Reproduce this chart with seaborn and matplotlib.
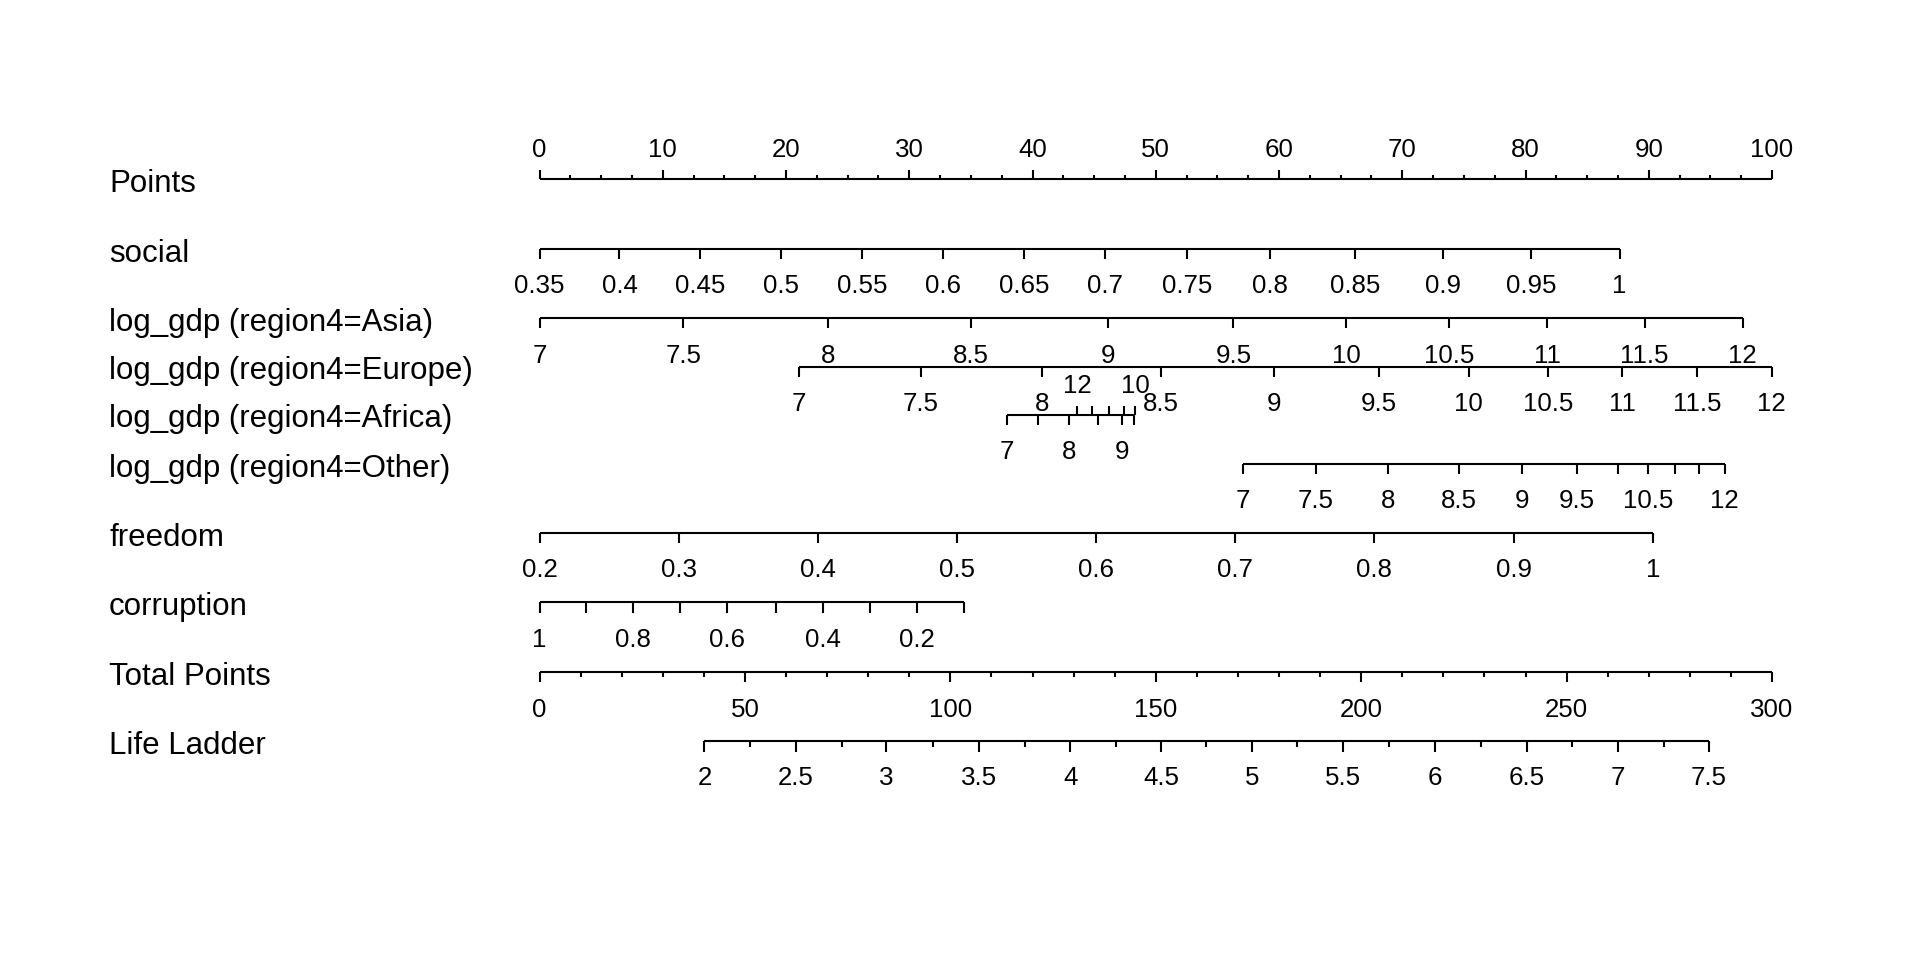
import numpy as np
import pandas as pd
import matplotlib
matplotlib.use("Agg")
import matplotlib.pyplot as plt
import seaborn as sns

# ------------------------------------------------------------------ data
row_names = ["Points", "social", "log_gdp (region4=Asia)", "log_gdp (region4=Europe)",
             "log_gdp (region4=Africa)", "log_gdp (region4=Other)", "freedom",
             "corruption", "Total Points", "Life Ladder"]

# Points scale (0-100)
points_major = [0, 10, 20, 30, 40, 50, 60, 70, 80, 90, 100]
points_minor = [2.5, 5, 7.5, 12.5, 15, 17.5, 22.5, 25, 27.5, 32.5, 35, 37.5,
                42.5, 45, 47.5, 52.5, 55, 57.5, 62.5, 65, 67.5, 72.5, 75, 77.5,
                82.5, 85, 87.5, 92.5, 95, 97.5]

social_vals = ["0.35", "0.4", "0.45", "0.5", "0.55", "0.6", "0.65", "0.7", "0.75",
               "0.8", "0.85", "0.9", "0.95", "1"]
social_pts = [0, 6.49, 13.06, 19.63, 26.16, 32.73, 39.30, 45.90, 52.54,
              59.24, 66.20, 73.33, 80.47, 87.64]

gdp_vals = ["7", "7.5", "8", "8.5", "9", "9.5", "10", "10.5", "11", "11.5", "12"]
asia_pts = [0, 11.68, 23.40, 35.01, 46.15, 56.30, 65.47, 73.80, 81.78, 89.67, 97.61]
europe_pts = [21.04, 30.95, 40.78, 50.45, 59.60, 68.08, 75.40, 81.85, 87.83, 93.95, 99.96]
africa_pts = [37.93, 40.45, 42.94, 45.32, 47.27, 48.24, 48.32, 47.40, 46.19, 44.86, 43.61]
africa_side = ["below", "below", "below", "below", "below", "below",
               "above", "above", "above", "above", "above"]
africa_shown = [True, False, True, False, True, False, True, False, False, False, True]
other_pts = [57.10, 62.97, 68.88, 74.57, 79.75, 84.20, 87.54, 89.96, 92.10, 94.09, 96.16]
other_shown = [True, True, True, True, True, True, False, True, False, False, True]

freedom_vals = ["0.2", "0.3", "0.4", "0.5", "0.6", "0.7", "0.8", "0.9", "1"]
freedom_pts = [0, 11.28, 22.57, 33.85, 45.17, 56.46, 67.74, 79.06, 90.38]

corruption_vals = ["1", "0.9", "0.8", "0.7", "0.6", "0.5", "0.4", "0.3", "0.2", "0.1"]
corruption_pts = [0, 3.81, 7.62, 11.43, 15.24, 19.16, 22.97, 26.81, 30.62, 34.47]
corruption_shown = [True, False, True, False, True, False, True, False, True, False]

# Total points scale (0-300)
total_major = [0, 50, 100, 150, 200, 250, 300]
total_minor = [10, 20, 30, 40, 60, 70, 80, 90, 110, 120, 130, 140, 160, 170, 180,
               190, 210, 220, 230, 240, 260, 270, 280, 290]

# Life Ladder on the total-points scale
life_major_vals = ["2", "2.5", "3", "3.5", "4", "4.5", "5", "5.5", "6", "6.5", "7", "7.5"]
life_major_total = [40.15, 62.35, 84.44, 106.96, 129.16, 151.25, 173.45, 195.65,
                    217.85, 240.26, 262.46, 284.66]
life_minor_total = [51.14, 73.56, 95.76, 118.06, 140.37, 162.35, 184.44, 206.86,
                    229.16, 251.25, 273.78]

# ------------------------------------------------------------------ layout
W, H = 1920, 960
X0_PX, X100_PX = 539.5, 1772.0          # where points 0 and 100 fall
LABEL_X_PX = 109
row_y = [179, 248.7, 318, 366.7, 414.7, 463.7, 532.7, 602, 672.3, 740.7]
LW = 1.5
TICK_FS = 18.6
NAME_FS = 22.5
BELOW_BASE = 44.7   # baseline offset of tick labels below the line
ABOVE_BASE = -21.8  # baseline offset of tick labels above the line

sns.set_theme(style="white")
plt.rcParams['font.family'] = ['Liberation Sans', 'DejaVu Sans']

fig = plt.figure(figsize=(W / 100, H / 100), dpi=100)
ax = fig.add_axes([0, 0, 1, 1])
ppx = (X100_PX - X0_PX) / 100.0
ax.set_xlim(-X0_PX / ppx, (W - X0_PX) / ppx)
ax.set_ylim(H, 0)
ax.axis("off")

# horizontal axis lines via seaborn
segs = []
def add_seg(i, xs):
    segs.append(pd.DataFrame({"row": i, "x": [min(xs), max(xs)], "y": [row_y[i]] * 2}))

add_seg(0, points_major)
add_seg(1, social_pts)
add_seg(2, asia_pts)
add_seg(3, europe_pts)
add_seg(4, africa_pts)
add_seg(5, other_pts)
add_seg(6, freedom_pts)
add_seg(7, corruption_pts)
add_seg(8, [t / 3 for t in total_major])
add_seg(9, [t / 3 for t in life_major_total])
seg_df = pd.concat(segs, ignore_index=True)
sns.lineplot(data=seg_df, x="x", y="y", units="row", estimator=None, sort=False,
             color="black", lw=LW, ax=ax, legend=False, solid_capstyle="butt")
ax.set_xlim(-X0_PX / ppx, (W - X0_PX) / ppx)
ax.set_ylim(H, 0)


def ticks(i, xs, length, up=False):
    y = row_y[i]
    y2 = y - length if up else y + length
    ax.vlines(xs, y, y2, color="black", lw=LW)


def labels(i, xs, texts, up=False, shown=None):
    y = row_y[i] + (ABOVE_BASE if up else BELOW_BASE)
    for k, (x, t) in enumerate(zip(xs, texts)):
        if shown is not None and not shown[k]:
            continue
        ax.text(x, y, t, ha="center", va="baseline", fontsize=TICK_FS, color="black")


# Points
ticks(0, points_major, 9, up=True)
ticks(0, points_minor, 4.5, up=True)
labels(0, points_major, [str(v) for v in points_major], up=True)

# social
ticks(1, social_pts, 10)
labels(1, social_pts, social_vals)

# Asia / Europe
ticks(2, asia_pts, 10)
labels(2, asia_pts, gdp_vals)
ticks(3, europe_pts, 10)
labels(3, europe_pts, gdp_vals)

# Africa (non-monotone: lower part below, upper part above)
a_below = [p for p, s in zip(africa_pts, africa_side) if s == "below"]
a_above = [p for p, s in zip(africa_pts, africa_side) if s == "above"]
ticks(4, a_below, 10)
ticks(4, a_above, 9, up=True)
for p, v, s, sh in zip(africa_pts, gdp_vals, africa_side, africa_shown):
    if sh:
        labels(4, [p], [v], up=(s == "above"))

# Other
ticks(5, other_pts, 10)
labels(5, other_pts, gdp_vals, shown=other_shown)

# freedom
ticks(6, freedom_pts, 10.5)
labels(6, freedom_pts, freedom_vals)

# corruption
ticks(7, corruption_pts, 10.5)
labels(7, corruption_pts, corruption_vals, shown=corruption_shown)

# Total Points
ticks(8, [t / 3 for t in total_major], 9.5)
ticks(8, [t / 3 for t in total_minor], 5)
labels(8, [t / 3 for t in total_major], [str(v) for v in total_major])

# Life Ladder
ticks(9, [t / 3 for t in life_major_total], 11)
ticks(9, [t / 3 for t in life_minor_total], 6)
labels(9, [t / 3 for t in life_major_total], life_major_vals)

# row names
for i, name in enumerate(row_names):
    ax.text(LABEL_X_PX / W, row_y[i] + 12.8, name, transform=ax.get_yaxis_transform(),
            ha="left", va="baseline", fontsize=NAME_FS, color="black")

fig.savefig("out.png", dpi=100, facecolor="white")
